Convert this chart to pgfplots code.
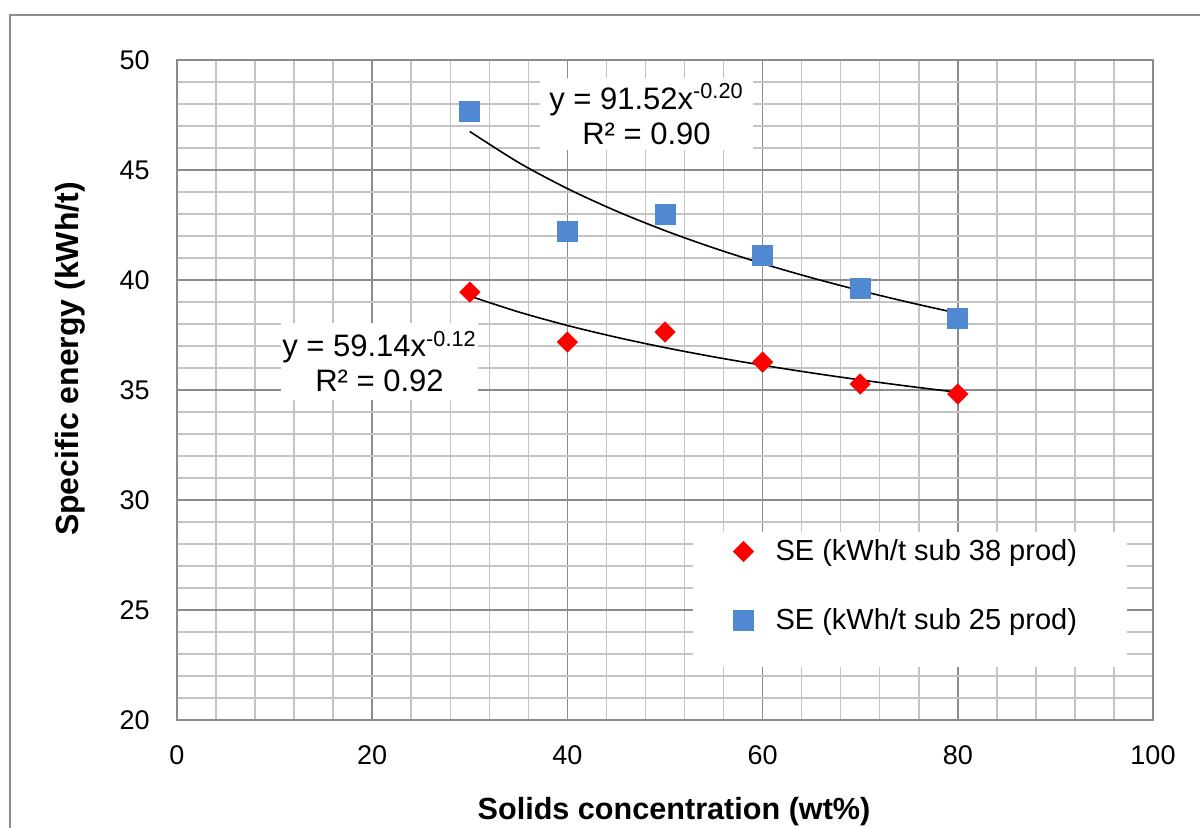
\documentclass[border=0pt]{standalone}
\usepackage{pgfplots}
\pgfplotsset{compat=1.18}
\usepackage{fontspec}
\setmainfont{Liberation Sans}
\definecolor{majgrid}{HTML}{8C8C8C}
\definecolor{mingrid}{HTML}{C4C4C4}
\definecolor{sebl}{HTML}{5089D1}
\definecolor{sered}{HTML}{FF0000}
\begin{document}
\begin{tikzpicture}
\useasboundingbox (0pt,0pt) rectangle (600pt,413.5pt);
\draw[majgrid, line width=0.9pt] (5pt,-2pt) -- (5pt,406pt) -- (602pt,406pt);
\begin{axis}[
  at={(88.5pt,53.5pt)}, anchor=south west,
  scale only axis, width=488pt, height=330pt,
  xmin=0, xmax=100, ymin=20, ymax=50,
  xtick={0,20,...,100}, ytick={20,25,...,50},
  minor x tick num=4, minor y tick num=4,
  grid=both,
  major grid style={majgrid, line width=0.75pt},
  minor grid style={mingrid, line width=0.75pt},
  axis line style={majgrid, line width=0.75pt},
  major tick length=0pt, minor tick length=0pt,
  tick label style={font=\fontsize{13.5}{16}\selectfont, inner sep=0pt},
  /pgf/number format/assume math mode=true,
  yticklabel style={xshift=-13.5pt},
  xticklabel style={yshift=-12.5pt},
  legend image code/.code={\draw[#1] plot coordinates {(0pt,0pt)}; \path[draw=none,fill=none] (-5pt,-5pt) rectangle (5pt,5pt);},
  legend cell align=left,
  legend style={at={(axis cs:58.0,27.68)}, anchor=north west, xshift=-5pt, yshift=6pt,
    draw=none, fill=none, inner sep=0pt, font=\fontsize{14.5}{17}\selectfont,
    nodes={inner sep=0pt}, row sep=22.5pt,
    /tikz/every odd column/.append style={column sep=11pt}},
]
% white boxes
\fill[white] (axis cs:37.19,45.91) rectangle (axis cs:59.02,49.18);
\fill[white] (axis cs:10.66,34.55) rectangle (axis cs:30.84,38.05);
\fill[white] (axis cs:52.87,22.41) rectangle (axis cs:97.34,28.55);
% data
\addplot[only marks, mark=square*, mark size=3.55pt, mark options={rotate=45, fill=sered, draw=sered}, color=sered]
  coordinates {(30,39.45) (40,37.18) (50,37.64) (60,36.27) (70,35.27) (80,34.82)};
\addlegendentry{SE (kWh/t sub 38 prod)}
\addplot[only marks, mark=square*, mark size=5pt, mark options={fill=sebl, draw=sebl}, color=sebl]
  coordinates {(30,47.68) (40,42.23) (50,43.00) (60,41.14) (70,39.64) (80,38.27)};
\addlegendentry{SE (kWh/t sub 25 prod)}
% trend lines (power fits)
\addplot[forget plot, black, line width=0.8pt, smooth]
  coordinates {(30,46.75) (35,45.34) (40,44.155) (45,43.137) (50,42.245) (55,41.455) (60,40.746) (65,40.104) (70,39.520) (75,38.983) (80,38.488)};
\addplot[forget plot, black, line width=0.8pt, smooth]
  coordinates {(30,39.270) (35,38.548) (40,37.933) (45,37.399) (50,36.927) (55,36.506) (60,36.126) (65,35.779) (70,35.461) (75,35.168) (80,34.896)};
% equation labels
\node[align=center, font=\fontsize{15.5}{17.5}\selectfont, inner sep=0pt] at (axis cs:48.1,47.55) {y = 91.52x\textsuperscript{-0.20}\\R² = 0.90};
\node[align=center, font=\fontsize{15.5}{17.5}\selectfont, inner sep=0pt] at (axis cs:20.75,36.30) {y = 59.14x\textsuperscript{-0.12}\\R² = 0.92};
\end{axis}
\node[rotate=90, font=\bfseries\fontsize{16}{19}\selectfont] at (35pt,234pt) {Specific energy (kWh/t)};
\node[font=\bfseries\fontsize{15.3}{18}\selectfont] at (337pt,7.5pt) {Solids concentration (wt\%)};
\end{tikzpicture}
\end{document}
